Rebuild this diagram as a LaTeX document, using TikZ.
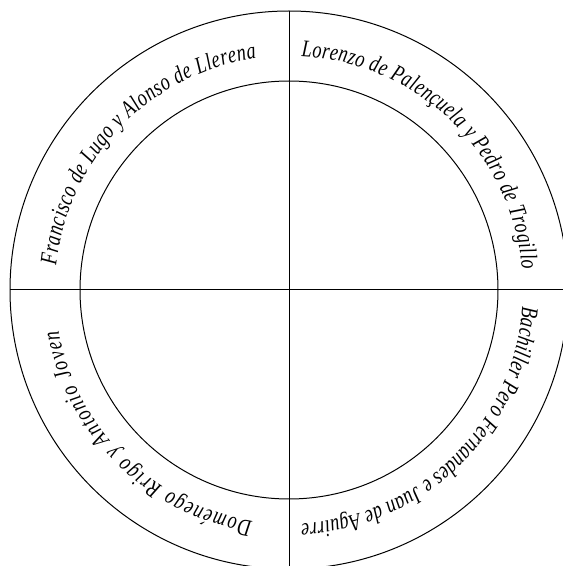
\documentclass[tikz,border=0pt]{standalone}
\usepackage{fontspec}
\setmainfont{Liberation Serif}
\newfontfamily\ringfont[FakeStretch=0.76]{Liberation Serif}
\usetikzlibrary{decorations.text}

\begin{document}
\begin{tikzpicture}[
  x=1pt, y=1pt,
  ring/.style={draw, line width=1pt},
  ringtext/.style={decorate, decoration={text along path, text align=fit to path,
              text={|\ringfont\itshape\fontsize{24}{24}\selectfont|#1}}}
]
  \useasboundingbox (0,0) rectangle (563,566);
  \clip (0,0) rectangle (563,566);
  \coordinate (c) at (289,276);
  \coordinate (w) at (10,276);
  \coordinate (e) at (568,276);
  \coordinate (n) at (289,555);
  \coordinate (s) at (289,-3);
  \draw[ring] (c) circle[radius=279];
  \draw[ring] (c) circle[radius=209];
  \draw[ring] (w) -- (e);
  \draw[ring] (n) -- (s);
  % names round the ring, read clockwise
  \path[ringtext={Francisco de Lugo y Alonso de Llerena}]
    (c) ++(174:234) arc[start angle=174, end angle=98, radius=234];
  \path[ringtext={Lorenzo de Palençuela y Pedro de Trogillo}]
    (c) ++(87:234) arc[start angle=87, end angle=5, radius=234];
  \path[ringtext={Bachiller Pero Fernandes e Juan de Aguirre}]
    (c) ++(-4:234) arc[start angle=-4, end angle=-87, radius=234];
  \path[ringtext={Doménego Rrigo y Antonio Joven}]
    (c) ++(-99:234) arc[start angle=-99, end angle=-170, radius=234];
\end{tikzpicture}
\end{document}
